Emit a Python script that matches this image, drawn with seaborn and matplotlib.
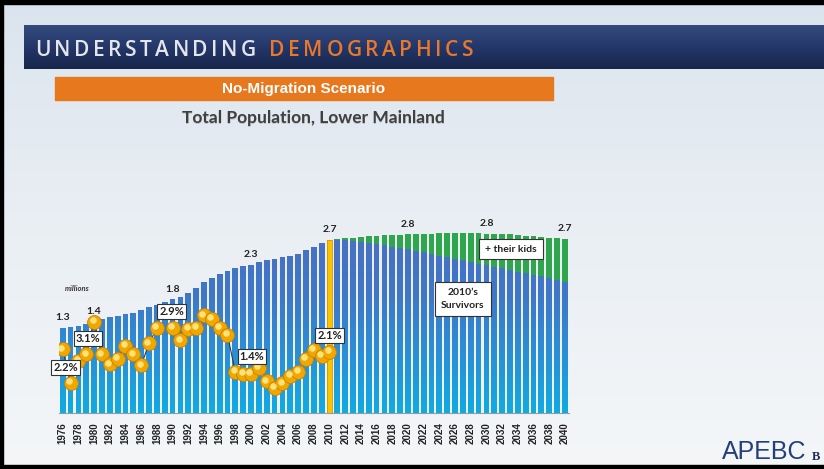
import numpy as np
import pandas as pd
import matplotlib
matplotlib.use("Agg")
import matplotlib.pyplot as plt
import seaborn as sns
from matplotlib.patches import Rectangle, PathPatch
from matplotlib.path import Path
from matplotlib.colors import LinearSegmentedColormap
import matplotlib.transforms as mtransforms

# ---------------- data ----------------
years = list(range(1976, 2041))
hist_pop = [1.33, 1.34, 1.36, 1.39, 1.43, 1.47, 1.50, 1.52, 1.55, 1.57,
            1.61, 1.65, 1.69, 1.74, 1.78, 1.82, 1.87, 1.95, 2.04, 2.11,
            2.17, 2.22, 2.26, 2.29, 2.32, 2.36, 2.39, 2.40, 2.43, 2.46,
            2.49, 2.54, 2.59, 2.65, 2.71]                       # 1976-2010
proj_total = [2.72, 2.73, 2.74, 2.75, 2.76, 2.77, 2.775, 2.78, 2.785, 2.79,
              2.795, 2.80, 2.80, 2.805, 2.81, 2.81, 2.81, 2.81, 2.805, 2.80,
              2.80, 2.795, 2.79, 2.78, 2.77, 2.76, 2.75, 2.74, 2.73, 2.72]  # 2011-2040
proj_survivors = [2.71, 2.70, 2.69, 2.67, 2.66, 2.64, 2.62, 2.60, 2.58, 2.56,
                  2.535, 2.51, 2.485, 2.46, 2.435, 2.41, 2.385, 2.36, 2.335, 2.31,
                  2.285, 2.26, 2.235, 2.21, 2.185, 2.16, 2.135, 2.11, 2.08, 2.05]
growth_pct = [2.15, 1.02, 1.75, 1.98, 3.07, 1.98, 1.64, 1.83, 2.28, 1.98,
              1.61, 2.35, 2.88, np.nan, 2.88, 2.45, 2.85, 2.88, 3.30, 3.19,
              2.88, 2.63, 1.39, 1.33, 1.33, 1.53, 1.07, 0.85, 1.00, 1.24,
              1.38, 1.83, 2.12, 1.92, 2.07]                     # 1976-2010
value_label_years = [1976, 1980, 1990, 2000, 2010, 2020, 2030, 2040]
pct_labels = {1976: "2.2%", 1980: "3.1%", 1990: "2.9%", 2000: "1.4%", 2010: "2.1%"}
tick_labels = [str(y) for y in years[::2]]

# ---------------- figure ----------------
W, H = 824, 469
fig = plt.figure(figsize=(W / 100, H / 100), dpi=100)
sns.set_style("white")
plt.rcParams["font.family"] = ["Lato", "DejaVu Sans"]

# background axis in pixel coordinates
ax_bg = fig.add_axes([0, 0, 1, 1])
ax_bg.set_xlim(0, W)
ax_bg.set_ylim(H, 0)
ax_bg.axis("off")
bg_cmap = LinearSegmentedColormap.from_list("bg", ["#dbe4ee", "#eaeff4", "#f4f6f8"])
ax_bg.imshow(np.linspace(0, 1, 256).reshape(-1, 1), extent=[0, W, H, 0],
             cmap=bg_cmap, aspect="auto", zorder=0)
hdr_cmap = LinearSegmentedColormap.from_list("hd", ["#344a7d", "#24376a", "#17264a"])
ax_bg.imshow(np.linspace(0, 1, 64).reshape(-1, 1), extent=[24, W, 69, 25],
             cmap=hdr_cmap, aspect="auto", zorder=1)
# black frame
ax_bg.add_patch(Rectangle((0, 0), W, 4, color="black", zorder=2))
ax_bg.add_patch(Rectangle((0, 0), 3, H, color="black", zorder=2))
ax_bg.add_patch(Rectangle((0, 465), W, 4, color="black", zorder=2))
# orange banner
ax_bg.add_patch(Rectangle((55, 77), 498, 23, color="#e8781e", zorder=2))
ax_bg.text(304, 89, "No-Migration Scenario", color="white", fontsize=11,
           fontweight="bold", family=["Liberation Sans", "DejaVu Sans"],
           ha="center", va="center", zorder=3)
ax_bg.text(313.6, 118.6, "Total Population, Lower Mainland", color="#bfc4ca", fontsize=12.5,
           fontweight="bold", ha="center", va="center", zorder=3)
ax_bg.text(313, 118, "Total Population, Lower Mainland", color="#404040", fontsize=12.5,
           fontweight="bold", ha="center", va="center", zorder=3)

# letter-spaced header
renderer = fig.canvas.get_renderer()
hdr = [(c, "#e4e6ea") for c in "UNDERSTANDING"] + [(" ", None)] + \
      [(c, "#e8792a") for c in "DEMOGRAPHICS"]
hdr_kw = dict(fontsize=15, fontweight="semibold", family=["Open Sans", "DejaVu Sans"],
              va="baseline", ha="left", zorder=3)
widths = []
for c, col in hdr:
    if c == " ":
        widths.append(6)
        continue
    t = ax_bg.text(0, 0, c, **hdr_kw)
    widths.append(t.get_window_extent(renderer).width)
    t.remove()
spacing = (438 - sum(widths)) / (len(hdr) - 1)
x = 35
for (c, col), w in zip(hdr, widths):
    if c != " ":
        ax_bg.text(x, 56, c, color=col, **hdr_kw)
    x += w + spacing

# ---------------- chart axes ----------------
base_y = 413
ax_h = 200
ax = fig.add_axes([58.8 / W, (H - base_y) / H, 510 / W, ax_h / H])
ax.patch.set_alpha(0)

blue = "#2f86d0"
green = "#2fa64e"
yellow = "#f6c400"
total = hist_pop + proj_total
lower = hist_pop + proj_survivors
ystr = [str(y) for y in years]
df_total = pd.DataFrame({"year": ystr, "value": total})
df_lower = pd.DataFrame({"year": ystr, "value": lower})

sns.barplot(data=df_total, x="year", y="value", color=green, saturation=1,
            width=0.74, ax=ax, edgecolor="none", zorder=2)
n = len(ax.patches)
pal = {y: (yellow if y == "2010" else blue) for y in ystr}
sns.barplot(data=df_lower, x="year", y="value", hue="year", palette=pal, saturation=1,
            width=0.74, ax=ax, edgecolor="none", legend=False, zorder=2)
blue_patches = ax.patches[n:]

# vertical gradient on blue bars
paths = []
for p, y in zip(blue_patches, ystr):
    if y == "2010":
        p.set_edgecolor("#e09a00")
        p.set_linewidth(0.6)
        continue
    paths.append(p.get_path().transformed(p.get_patch_transform()))
clip = PathPatch(Path.make_compound_path(*paths), transform=ax.transData,
                 facecolor="none", edgecolor="none")
bcmap = LinearSegmentedColormap.from_list("bb", ["#10abe3", "#2a8fd6", "#3f77c8", "#4a70c2"])
im = ax.imshow(np.linspace(0, 1, 256).reshape(-1, 1), extent=[-0.5, 64.5, 0, 2.8],
               origin="lower", aspect="auto", cmap=bcmap, zorder=3)
im.set_clip_path(clip)

ymax = ax_h / 64.0
ax.set_xlim(-0.5, 64.5)
ax.set_ylim(0, ymax)
for s in ["top", "right", "left"]:
    ax.spines[s].set_visible(False)
ax.spines["bottom"].set_color("#9a9a9a")
ax.spines["bottom"].set_linewidth(0.8)
ax.set_yticks([])
ax.set_xlabel("")
ax.set_ylabel("")
ax.set_xticks(range(0, 65, 2))
ax.set_xticklabels(tick_labels, rotation=90, fontsize=7, fontweight="bold",
                   family=["Liberation Sans", "DejaVu Sans"], color="#222222")
ax.set_xticks(np.arange(-0.5, 65, 1), minor=True)
ax.tick_params(axis="x", which="major", length=0, pad=6.5)
ax.tick_params(axis="x", which="minor", length=3, color="#9a9a9a", width=0.6)

# value labels
for yr in value_label_years:
    i = years.index(yr)
    v = total[i]
    ax.text(i, v + 10 / 64, f"{v:.1f}", ha="center", va="center", fontsize=7.5,
            fontweight="bold", color="#222222", zorder=6)
ax.text(years.index(1976) + 1.85, 1.94, "millions", ha="center", va="center", fontsize=5.5,
        style="italic", fontweight="bold", color="#333333")

# ---------------- growth dots ----------------
ax2 = ax.twinx()
ax2.set_ylim(0, ax_h / 29.6)
ax2.set_xlim(-0.5, 64.5)
ax2.axis("off")
pos = np.arange(len(growth_pct))
ax2.plot(pos, growth_pct, color="#3a3a3a", lw=0.8, zorder=3)
sns.scatterplot(x=pos, y=growth_pct, ax=ax2, s=100, color="#f0a800",
                edgecolor="#c98000", linewidth=0.6, zorder=4, legend=False)
hl = mtransforms.offset_copy(ax2.transData, fig=fig, x=-1.6, y=1.8, units="dots")
ax2.scatter(pos, growth_pct, s=22, color="#ffe27a", linewidths=0, transform=hl, zorder=5)

label_offsets = {1976: (3, -18), 1980: (-6, -16), 1990: (-1, 16), 2000: (1, 17), 2010: (0, 16)}
for yr, txt in pct_labels.items():
    i = years.index(yr)
    ax2.annotate(txt, (i, growth_pct[i]), xytext=label_offsets[yr], textcoords="offset pixels",
                 ha="center", va="center", fontsize=8, fontweight="bold", color="#222222",
                 bbox=dict(boxstyle="square,pad=0.18", fc="white", ec="#333333", lw=0.8),
                 zorder=7)

# annotation boxes (pixel coords)
fig.text(511, 249, "+ their kids", transform=ax_bg.transData, ha="center", va="center",
         fontsize=7.5, fontweight="bold", color="#222222",
         bbox=dict(boxstyle="square,pad=0.55", fc="white", ec="#333333", lw=0.8))
fig.text(463, 299, "2010\u2019s\nSurvivors", transform=ax_bg.transData, ha="center",
         va="center", fontsize=7.5, fontweight="bold", color="#222222", linespacing=1.5,
         bbox=dict(boxstyle="square,pad=0.6", fc="white", ec="#333333", lw=0.8))

# logo text
fig.text(764, 452, "APEBC", transform=ax_bg.transData, ha="center", va="center",
         fontsize=18, color="#23407a", family=["Liberation Sans", "DejaVu Sans"])
fig.text(812, 457, "B", transform=ax_bg.transData, ha="left", va="center",
         fontsize=9, fontweight="bold", color="#1c2c5c", family=["Liberation Serif", "DejaVu Serif"])

fig.savefig("out.png", dpi=100)
